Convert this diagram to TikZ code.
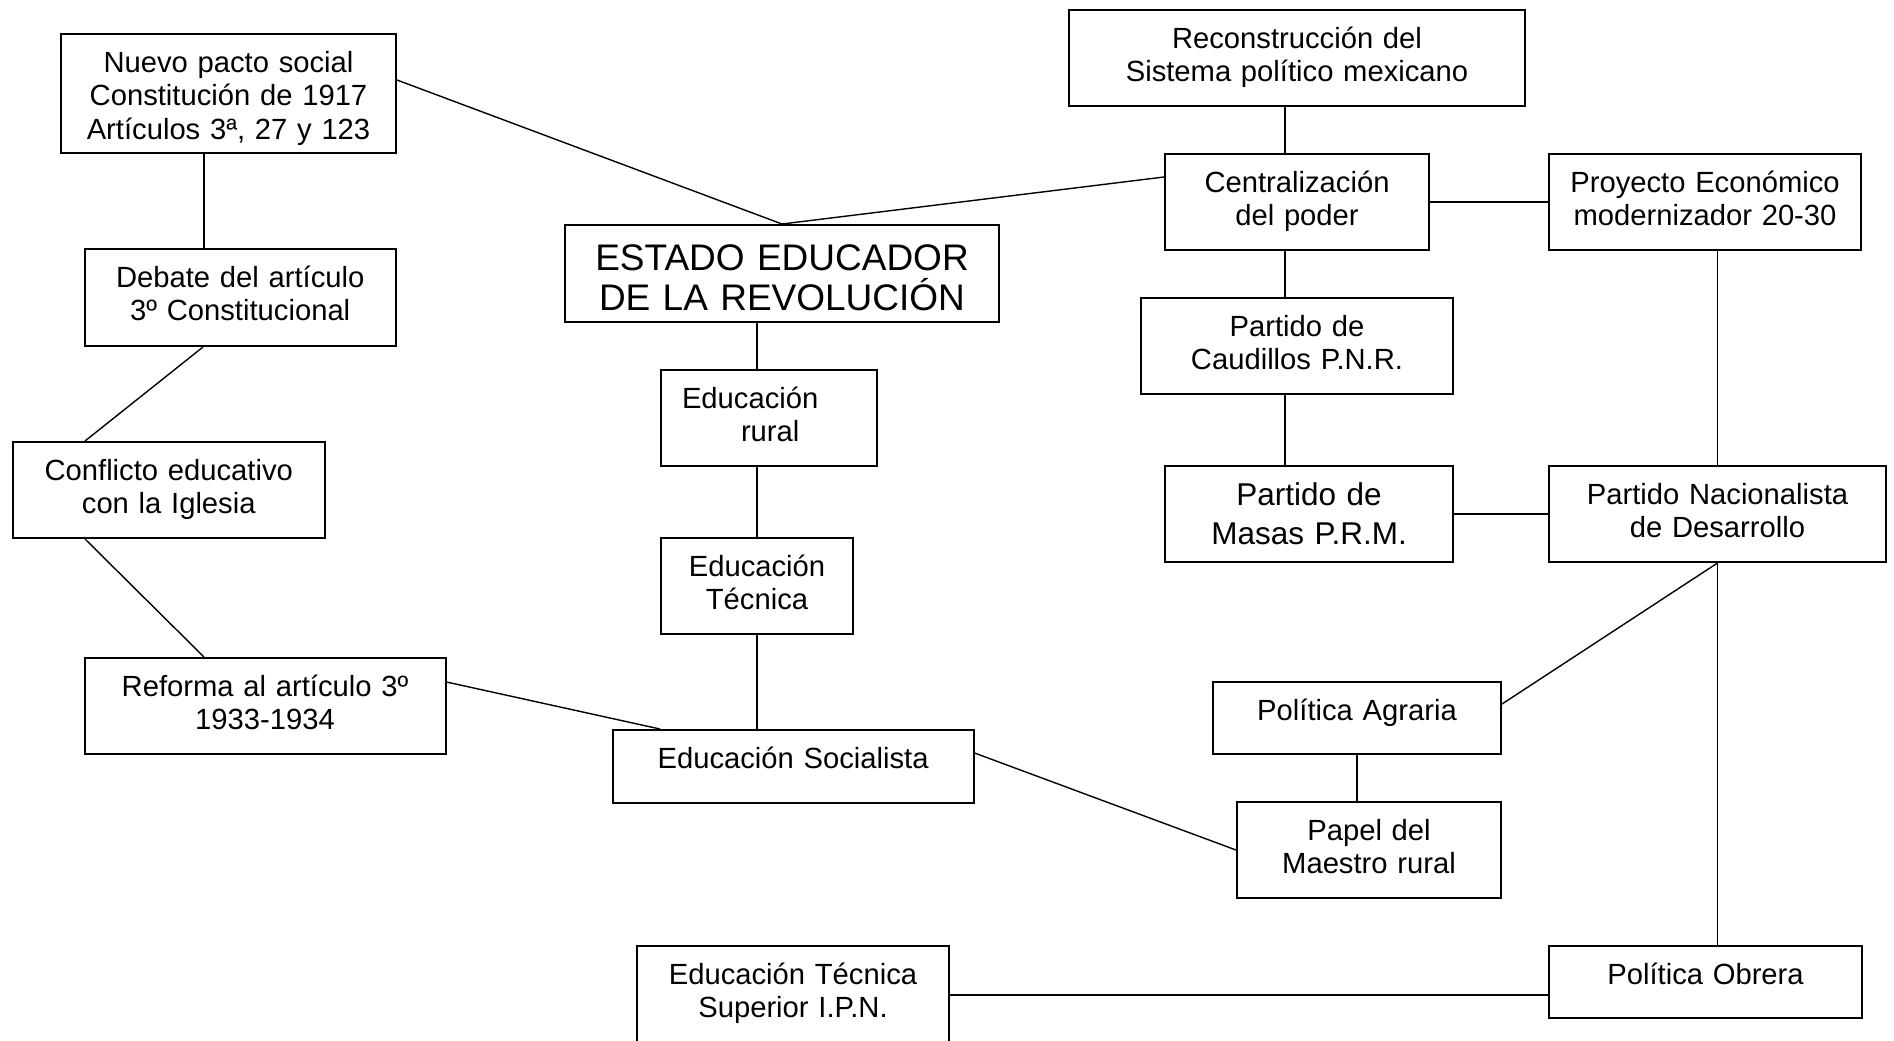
\documentclass[tikz,border=0pt]{standalone}
\usepackage{fontspec}
\setmainfont{Liberation Sans}
\usetikzlibrary{positioning}

\begin{document}
\begin{tikzpicture}[
    x=0.5pt, y=-0.5pt,
    boxtop/.store in=\boxtop, boxtop=19.35pt,
    box/.style 2 args={draw, line width=1pt, inner sep=0pt, anchor=north west, align=center,
        text width=#1*0.5pt, text height=\boxtop, text depth=#2*0.5pt-\boxtop,
        font=\fontsize{14.6pt}{16.6pt}\selectfont},
    bigtext/.style={boxtop=22.85pt, font=\fontsize{18.5pt}{20pt}\selectfont},
    midtext/.style={boxtop=19.7pt, font=\fontsize{15.75pt}{19.4pt}\selectfont},
    link/.style={line width=0.7pt}
]
\path[use as bounding box, fill=white] (0,0) rectangle (1894,1040);

% left column
\node[box={335}{119}] (nuevo) at (60,33) {Nuevo pacto social\\Constitución de 1917\\Artículos 3ª, 27 y 123};
\node[box={311.5}{97}] (debate) at (83.5,248) {Debate del artículo\\3º Constitucional};
\node[box={312.5}{96}] (conflicto) at (11.5,441) {Conflicto educativo\\con la Iglesia};
\node[box={361}{96}] (reforma) at (83.5,657) {Reforma al artículo 3º\\1933-1934};

% centre column
\node[box={434}{97}, bigtext] (estado) at (564,224) {ESTADO EDUCADOR\\DE LA REVOLUCIÓN};
\node[box={216}{96}, align=left] (rural) at (660,369) {\hspace*{10.5pt}Educación\\\hspace*{40pt}rural};
\node[box={192}{96}] (tecnica) at (660,537) {Educación\\Técnica};
\node[box={361}{73}] (socialista) at (611.6,729) {Educación Socialista};
\node[box={312}{98}] (superior) at (636,945) {Educación Técnica\\Superior I.P.N.};

% right part
\node[box={456}{96}] (reconstruccion) at (1068,9) {Reconstrucción del\\Sistema político mexicano};
\node[box={264}{96}] (centralizacion) at (1164,153) {Centralización\\del poder};
\node[box={312}{96}] (proyecto) at (1548,153) {Proyecto Económico\\modernizador 20-30};
\node[box={312}{96}] (caudillos) at (1140,297) {Partido de\\Caudillos P.N.R.};
\node[box={288}{96}, midtext] (masas) at (1164,465) {Partido de\\Masas P.R.M.};
\node[box={337}{96}] (nacionalista) at (1548,465) {Partido Nacionalista\\de Desarrollo};
\node[box={288}{72}] (agraria) at (1212,681) {Política Agraria};
\node[box={264}{96}] (papel) at (1236,801) {Papel del\\Maestro rural};
\node[box={313}{72}] (obrera) at (1548,945) {Política Obrera};

% connectors
\draw[link] (nuevo.south -| 204,0) -- (debate.north -| 204,0);
\draw[link] (nuevo.east |- 0,80) -- (estado.north);
\draw[link] (centralizacion.west |- 0,177) -- (estado.north);
\draw[link] (debate.south -| 203,0) -- (conflicto.north -| 85,0);
\draw[link] (conflicto.south -| 85,0) -- (reforma.north -| 204,0);
\draw[link] (reforma.east |- 0,682) -- (socialista.north -| 660,0);
\draw[link] (tecnica.north |- estado.south) -- (tecnica.north |- rural.north);
\draw[link] (tecnica.north |- rural.south) -- (tecnica.north);
\draw[link] (tecnica.south) -- (tecnica.south |- socialista.north);
\draw[link] (socialista.east |- 0,753) -- (papel.west);
\draw[link] (reconstruccion.south -| 1285,0) -- (centralizacion.north -| 1285,0);
\draw[link] (centralizacion.east) -- (proyecto.west);
\draw[link] (centralizacion.south -| 1285,0) -- (caudillos.north -| 1285,0);
\draw[link] (caudillos.south -| 1285,0) -- (masas.north -| 1285,0);
\draw[link] (nacionalista.north |- proyecto.south) -- (nacionalista.north);
\draw[link] (masas.east) -- (nacionalista.west);
\draw[link] (nacionalista.south) -- (agraria.east |- 0,704);
\draw[link] (nacionalista.south) -- (nacionalista.south |- obrera.north);
\draw[link] (agraria.south) -- (agraria.south |- papel.north);
\draw[link] (superior.east) -- (superior.east -| obrera.west);
\end{tikzpicture}
\end{document}
